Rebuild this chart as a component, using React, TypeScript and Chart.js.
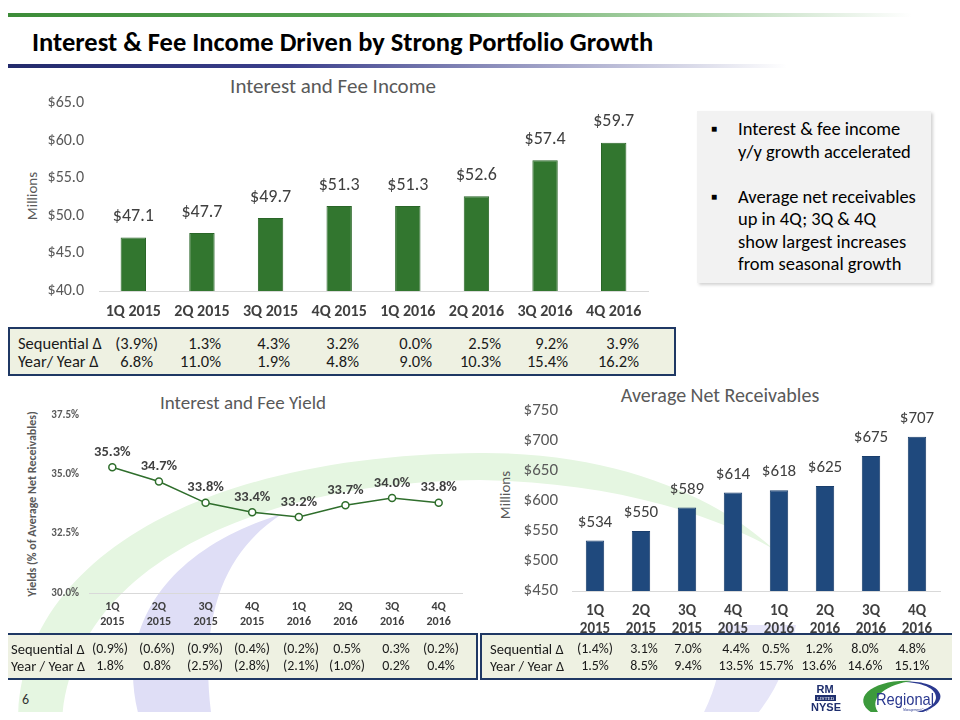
import React, { useEffect, useRef } from "react";
import { Chart, registerables } from "chart.js";
Chart.register(...registerables);

const FONT = "Carlito, Calibri, Lato, 'Open Sans', sans-serif";

const quarters = ["1Q 2015", "2Q 2015", "3Q 2015", "4Q 2015", "1Q 2016", "2Q 2016", "3Q 2016", "4Q 2016"];
const quarterLines = quarters.map((q) => q.split(" "));

const incomeValues = [47.1, 47.7, 49.7, 51.3, 51.3, 52.6, 57.4, 59.7];
const incomeAxis = { min: 40, max: 65, step: 5 };
const incomeSequential = ["(3.9%)", "1.3%", "4.3%", "3.2%", "0.0%", "2.5%", "9.2%", "3.9%"];
const incomeYearOverYear = ["6.8%", "11.0%", "1.9%", "4.8%", "9.0%", "10.3%", "15.4%", "16.2%"];

const yieldValues = [35.3, 34.7, 33.8, 33.4, 33.2, 33.7, 34.0, 33.8];
const yieldAxis = { min: 30, max: 37.5, step: 2.5 };
const yieldSequential = ["(0.9%)", "(0.6%)", "(0.9%)", "(0.4%)", "(0.2%)", "0.5%", "0.3%", "(0.2%)"];
const yieldYearOverYear = ["1.8%", "0.8%", "(2.5%)", "(2.8%)", "(2.1%)", "(1.0%)", "0.2%", "0.4%"];

const receivableValues = [534, 550, 589, 614, 618, 625, 675, 707];
const receivableAxis = { min: 450, max: 750, step: 50 };
const receivableSequential = ["(1.4%)", "3.1%", "7.0%", "4.4%", "0.5%", "1.2%", "8.0%", "4.8%"];
const receivableYearOverYear = ["1.5%", "8.5%", "9.4%", "13.5%", "15.7%", "13.6%", "14.6%", "15.1%"];

const rowLabels = ["Sequential Δ", "Year/ Year Δ"];
const rowLabelsBottom = ["Sequential Δ", "Year / Year Δ"];

const bulletPoints = [
  ["Interest & fee income", "y/y growth accelerated"],
  ["Average net receivables", "up in 4Q; 3Q & 4Q", "show largest increases", "from seasonal growth"],
];

function makeLabelPlugin(format: (v: number) => string, font: string, color: string, offset: number) {
  return {
    id: "valueLabels",
    afterDatasetsDraw(chart: any) {
      const ctx = chart.ctx;
      chart.data.datasets.forEach((ds: any, di: number) => {
        const meta = chart.getDatasetMeta(di);
        meta.data.forEach((el: any, i: number) => {
          ctx.save();
          ctx.font = font;
          ctx.fillStyle = color;
          ctx.textAlign = "center";
          ctx.textBaseline = "middle";
          ctx.fillText(format(ds.data[i]), el.x, el.y - offset);
          ctx.restore();
        });
      });
    },
  };
}

function ChartBox({ left, top, width, height, config }: any) {
  const ref = useRef<HTMLCanvasElement>(null);
  useEffect(() => {
    const chart = new Chart(ref.current as HTMLCanvasElement, config());
    return () => chart.destroy();
  }, []);
  return (
    <div style={{ position: "absolute", left, top, width, height }}>
      <canvas ref={ref} width={width} height={height} style={{ width, height, display: "block" }} />
    </div>
  );
}

function T({ x, y, children, size = 14, weight = 400, color = "#000", align = "left", style = {} }: any) {
  const tx = align === "center" ? "-50%" : align === "right" ? "-100%" : "0";
  return (
    <div
      style={{
        position: "absolute",
        left: x,
        top: y,
        transform: `translate(${tx}, -50%)`,
        fontFamily: FONT,
        fontSize: size,
        fontWeight: weight,
        color,
        lineHeight: 1,
        whiteSpace: "nowrap",
        ...style,
      }}
    >
      {children}
    </div>
  );
}

const baseOptions = {
  responsive: false,
  animation: false,
  plugins: { legend: { display: false }, tooltip: { enabled: false }, title: { display: false } },
};

const incomeConfig = () => ({
  type: "bar",
  data: {
    labels: quarters,
    datasets: [
      { data: incomeValues, backgroundColor: "#32762F", borderColor: "#2A6628", borderWidth: 1, barPercentage: 0.37, categoryPercentage: 1 },
    ],
  },
  options: {
    ...baseOptions,
    layout: { padding: { left: 0, top: 33, right: 32, bottom: 0 } },
    scales: {
      x: {
        grid: { display: false, drawTicks: false },
        border: { display: true, color: "#D9D9D9", width: 1 },
        ticks: { font: { family: FONT, size: 16, weight: "bold" }, color: "#404040", padding: 11, maxRotation: 0, autoSkip: false },
        afterFit: (s: any) => { s.height = 39; },
      },
      y: {
        min: incomeAxis.min,
        max: incomeAxis.max,
        ticks: { stepSize: incomeAxis.step, callback: (v: any) => "$" + Number(v).toFixed(1), font: { family: FONT, size: 16 }, color: "#595959", padding: 15 },
        grid: { display: false, drawTicks: false },
        border: { display: false },
        afterFit: (s: any) => { s.width = 99; },
      },
    },
  },
  plugins: [makeLabelPlugin((v) => "$" + v.toFixed(1), `18px ${FONT}`, "#404040", 21)],
});

const yieldConfig = () => ({
  type: "line",
  data: {
    labels: quarterLines,
    datasets: [
      {
        data: yieldValues,
        borderColor: "#2F6E2C",
        borderWidth: 1.5,
        pointRadius: 3.5,
        pointBackgroundColor: "#FFFFFF",
        pointBorderColor: "#2F6E2C",
        pointBorderWidth: 1.5,
        tension: 0,
        fill: false,
      },
    ],
  },
  options: {
    ...baseOptions,
    layout: { padding: { left: 0, top: 30, right: 18, bottom: 0 } },
    scales: {
      x: {
        offset: true,
        grid: { display: false, drawTicks: false },
        border: { display: true, color: "#D9D9D9", width: 1 },
        ticks: { font: { family: FONT, size: 12, weight: "bold" }, color: "#404040", padding: 7, maxRotation: 0, autoSkip: false },
        afterFit: (s: any) => { s.height = 42; },
      },
      y: {
        min: yieldAxis.min,
        max: yieldAxis.max,
        ticks: { stepSize: yieldAxis.step, callback: (v: any) => Number(v).toFixed(1) + "%", font: { family: FONT, size: 11, weight: "bold" }, color: "#595959", padding: 10 },
        grid: { display: false, drawTicks: false },
        border: { display: false },
        afterFit: (s: any) => { s.width = 89; },
      },
    },
  },
  plugins: [makeLabelPlugin((v) => v.toFixed(1) + "%", `bold 14.5px ${FONT}`, "#404040", 15)],
});

const receivableConfig = () => ({
  type: "bar",
  data: {
    labels: quarterLines,
    datasets: [
      { data: receivableValues, backgroundColor: "#1F497D", borderColor: "#1A3E6C", borderWidth: 1, barPercentage: 0.4, categoryPercentage: 1 },
    ],
  },
  options: {
    ...baseOptions,
    layout: { padding: { left: 0, top: 26, right: 20, bottom: 0 } },
    scales: {
      x: {
        grid: { display: false, drawTicks: false },
        border: { display: true, color: "#D9D9D9", width: 1 },
        ticks: { font: { family: FONT, size: 15, weight: "bold" }, color: "#404040", padding: 11, maxRotation: 0, autoSkip: false },
        afterFit: (s: any) => { s.height = 44; },
      },
      y: {
        min: receivableAxis.min,
        max: receivableAxis.max,
        ticks: { stepSize: receivableAxis.step, callback: (v: any) => "$" + v, font: { family: FONT, size: 17 }, color: "#595959", padding: 14 },
        grid: { display: false, drawTicks: false },
        border: { display: false },
        afterFit: (s: any) => { s.width = 92; },
      },
    },
  },
  plugins: [makeLabelPlugin((v) => "$" + v, `17px ${FONT}`, "#404040", 18)],
});

const topEdges = [153, 221, 290, 359, 432, 501, 568, 639];
const leftCenters = [110, 157, 205, 252, 301, 347, 396, 441];
const rightCenters = [595, 644, 688, 736, 776, 819, 865, 912];

function RightCell({ x, y, v }: any) {
  const paren = v.endsWith(")");
  const body = paren ? v.slice(0, -1) : v;
  return (
    <T x={x} y={y} align="right" size={16.5} color="#1a1a1a">
      {body}
      {paren && <span style={{ position: "absolute", left: "100%" }}>)</span>}
    </T>
  );
}

function Watermark() {
  return (
    <svg width={960} height={720} style={{ position: "absolute", left: 0, top: 0 }}>
      <path d="M 18 720 C 20 560, 200 455, 480 453 C 620 452, 720 500, 772 548 C 700 508, 600 482, 480 480 C 250 482, 72 570, 62 720 Z" fill="#E5F6E1" />
      <path d="M 140 720 C 112 625, 170 548, 282 514 C 232 546, 196 605, 212 720 Z" fill="#DFDEF6" />
      <path d="M 722 625 L 796 625 C 790 660, 775 695, 752 720 L 700 720 C 716 690, 724 660, 722 625 Z" fill="#E6E5F8" />
    </svg>
  );
}

function Logos() {
  return (
    <svg width={960} height={720} style={{ position: "absolute", left: 0, top: 0 }}>
      <text x={825} y={693} textAnchor="middle" fontFamily="Liberation Sans, Arial, sans-serif" fontWeight="bold" fontSize={11} fill="#1F2F6E">RM</text>
      <rect x={815} y={695} width={21} height={6} fill="#1F2F6E" />
      <text x={825.5} y={700} textAnchor="middle" fontFamily="Liberation Serif, serif" fontSize={5} fill="#FFFFFF">LISTED</text>
      <text x={826} y={711} textAnchor="middle" fontFamily="Liberation Sans, Arial, sans-serif" fontWeight="bold" fontSize={11} fill="#1F2F6E">NYSE</text>
      <path d="M 872 713 C 905 723, 945 709, 940 694 C 936 683, 915 680, 898 682 C 925 681, 942 691, 934 703 C 925 714, 895 717, 872 713 Z" fill="#2B3990" />
      <path d="M 872 713 C 850 699, 872 679, 912 681 C 888 684, 868 697, 878 712 Z" fill="#3C9A3C" />
      <text x={905} y={705} textAnchor="middle" fontFamily="Liberation Sans Narrow, Liberation Sans, Arial, sans-serif" fontSize={17} fill="#2B3990" textLength={58} lengthAdjust="spacingAndGlyphs">Regional</text>
      <text x={916} y={711} textAnchor="middle" fontFamily="Liberation Sans, Arial, sans-serif" fontSize={3} fill="#2B3990">Management Corp.</text>
    </svg>
  );
}

export default function App() {
  return (
    <div style={{ position: "relative", width: 960, height: 720, margin: -8, overflow: "hidden", background: "#FFFFFF", fontFamily: FONT }}>
      <Watermark />
      <div style={{ position: "absolute", left: 0, top: 13, width: 960, height: 4, background: "linear-gradient(to right, #3C8C38 0%, #5AA656 45%, rgba(255,255,255,0) 95%)" }} />
      <T x={32} y={42} size={26.5} weight={700} color="#000">Interest &amp; Fee Income Driven by Strong Portfolio Growth</T>
      <div style={{ position: "absolute", left: 0, top: 64, width: 960, height: 4, background: "linear-gradient(to right, #222A6B 0%, #3B3F8C 30%, rgba(255,255,255,0) 82%)" }} />

      <T x={333} y={86} size={21} color="#595959" align="center">Interest and Fee Income</T>
      <T x={32} y={196} size={15} color="#595959" align="center" style={{ transform: "translate(-50%, -50%) rotate(-90deg)" }}>Millions</T>
      <ChartBox left={0} top={70} width={680} height={260} config={incomeConfig} />

      <div style={{ position: "absolute", left: 697, top: 111, width: 234, height: 172, background: "#F2F2F2", boxShadow: "2px 2px 3px rgba(0,0,0,0.18)" }} />
      {(() => {
        const items: any[] = [];
        let line = 0;
        bulletPoints.forEach((bp, bi) => {
          items.push(<T key={"b" + bi} x={711} y={129 + line * 22.5} size={10} color="#000">■</T>);
          bp.forEach((t, ti) => {
            items.push(<T key={"t" + bi + ti} x={738} y={129 + line * 22.5} size={18.5} color="#000">{t}</T>);
            line++;
          });
          line++;
        });
        return items;
      })()}

      <div style={{ position: "absolute", left: 8, top: 327, width: 664, height: 45, border: "2px solid #1F3864", background: "#EEF1E2" }} />
      {rowLabels.map((l, r) => (
        <T key={"tl" + r} x={18} y={343 + r * 18} size={16.5} color="#1a1a1a">{l}</T>
      ))}
      {incomeSequential.map((v, i) => <RightCell key={"ts" + i} x={topEdges[i]} y={343} v={v} />)}
      {incomeYearOverYear.map((v, i) => <RightCell key={"ty" + i} x={topEdges[i]} y={361} v={v} />)}

      <T x={243} y={402} size={19} color="#595959" align="center">Interest and Fee Yield</T>
      <T x={32} y={504} size={12} weight={700} color="#595959" align="center" style={{ transform: "translate(-50%, -50%) rotate(-90deg)" }}>Yields (% of Average Net Receivables)</T>
      <ChartBox left={0} top={385} width={480} height={250} config={yieldConfig} />

      <T x={720} y={395} size={20} color="#595959" align="center">Average Net Receivables</T>
      <T x={505} y={495} size={15} color="#595959" align="center" style={{ transform: "translate(-50%, -50%) rotate(-90deg)" }}>Millions</T>
      <ChartBox left={480} top={385} width={480} height={250} config={receivableConfig} />

      <div style={{ position: "absolute", left: 5, top: 633, width: 469, height: 43, border: "2px solid #1F3864", background: "#EEF1E2" }} />
      <div style={{ position: "absolute", left: 480, top: 633, width: 474, height: 43, border: "2px solid #1F3864", background: "#EEF1E2" }} />
      {rowLabelsBottom.map((l, r) => (
        <React.Fragment key={"bl" + r}>
          <T x={11} y={649 + r * 17} size={14.5} color="#1a1a1a">{l}</T>
          <T x={490} y={649 + r * 17} size={14.5} color="#1a1a1a">{l}</T>
        </React.Fragment>
      ))}
      {yieldSequential.map((v, i) => <T key={"ys" + i} x={leftCenters[i]} y={649} size={14} color="#1a1a1a" align="center">{v}</T>)}
      {yieldYearOverYear.map((v, i) => <T key={"yy" + i} x={leftCenters[i]} y={666} size={14} color="#1a1a1a" align="center">{v}</T>)}
      {receivableSequential.map((v, i) => <T key={"rs" + i} x={rightCenters[i]} y={649} size={14} color="#1a1a1a" align="center">{v}</T>)}
      {receivableYearOverYear.map((v, i) => <T key={"ry" + i} x={rightCenters[i]} y={666} size={14} color="#1a1a1a" align="center">{v}</T>)}

      <T x={22} y={700} size={14} color="#333">6</T>
      <Logos />
    </div>
  );
}
